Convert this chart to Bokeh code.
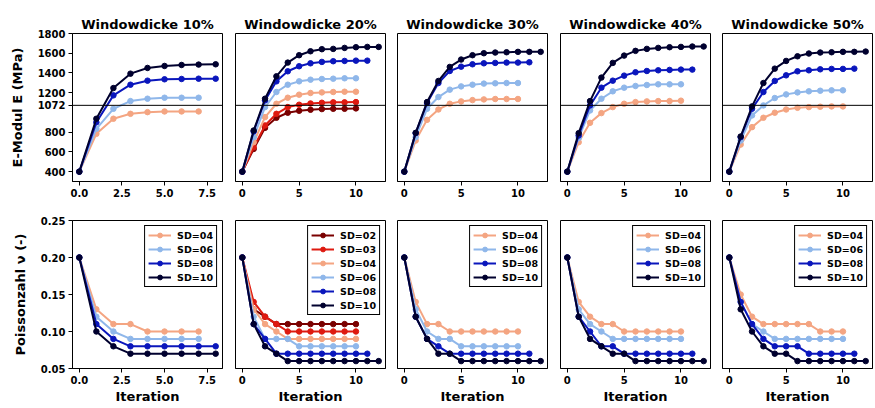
from bokeh.plotting import figure
from bokeh.layouts import column, row
from bokeh.models import Span, FixedTicker, NumeralTickFormatter, Range1d
from bokeh.embed import file_html
from bokeh.resources import INLINE

FONT = "DejaVu Sans"

windows = ["10%", "20%", "30%", "40%", "50%"]
sd_labels = ["SD=02", "SD=03", "SD=04", "SD=06", "SD=08", "SD=10"]
sd_colors = {"SD=02": "#7a0000", "SD=03": "#de1a10", "SD=04": "#f4a582",
             "SD=06": "#8fb7ea", "SD=08": "#0a16bc", "SD=10": "#00002e"}

E_ticks = [400, 600, 800, 1072, 1200, 1400, 1600, 1800]
E_ref = 1072
nu_ticks = [0.05, 0.10, 0.15, 0.20, 0.25]

# E-Modul (MPa) per iteration
E_10_SD04 = [400, 783, 936, 986, 1003, 1010, 1010, 1010]
E_10_SD06 = [400, 834, 1037, 1115, 1139, 1149, 1149, 1149]
E_10_SD08 = [400, 900, 1173, 1281, 1322, 1336, 1339, 1342, 1342]
E_10_SD10 = [400, 936, 1247, 1393, 1451, 1471, 1481, 1485, 1488]

E_20_SD02 = [400, 630, 844, 946, 997, 1017, 1027, 1034, 1037, 1037, 1041]
E_20_SD03 = [400, 647, 868, 986, 1054, 1078, 1091, 1098, 1102, 1102, 1105]
E_20_SD04 = [400, 698, 953, 1088, 1149, 1180, 1197, 1203, 1207, 1210, 1210]
E_20_SD06 = [400, 749, 1054, 1207, 1281, 1315, 1332, 1339, 1342, 1346, 1346]
E_20_SD08 = [400, 807, 1122, 1315, 1417, 1468, 1498, 1512, 1519, 1522, 1525, 1525]
E_20_SD10 = [400, 817, 1139, 1366, 1505, 1580, 1620, 1641, 1644, 1654, 1661, 1664, 1664]

E_30_SD04 = [400, 715, 925, 1030, 1088, 1112, 1125, 1132, 1136, 1136, 1136]
E_30_SD06 = [400, 749, 1037, 1156, 1231, 1264, 1281, 1292, 1295, 1298, 1298]
E_30_SD08 = [400, 790, 1095, 1298, 1420, 1464, 1488, 1498, 1502, 1505, 1505, 1508]
E_30_SD10 = [400, 793, 1105, 1319, 1461, 1536, 1580, 1600, 1607, 1610, 1614, 1614, 1614]

E_40_SD04 = [400, 698, 895, 993, 1054, 1088, 1105, 1112, 1115, 1115, 1119]
E_40_SD06 = [400, 742, 1020, 1139, 1214, 1251, 1268, 1278, 1285, 1285, 1285]
E_40_SD08 = [400, 766, 1071, 1251, 1322, 1373, 1407, 1420, 1427, 1431, 1434, 1434]
E_40_SD10 = [400, 790, 1115, 1353, 1502, 1576, 1624, 1644, 1654, 1661, 1664, 1668, 1668]

E_50_SD04 = [400, 674, 851, 946, 997, 1030, 1047, 1054, 1058, 1061, 1061]
E_50_SD06 = [400, 715, 970, 1071, 1146, 1183, 1203, 1214, 1220, 1224, 1224]
E_50_SD08 = [400, 749, 1037, 1207, 1319, 1376, 1417, 1427, 1437, 1441, 1441, 1444]
E_50_SD10 = [400, 756, 1061, 1298, 1444, 1522, 1569, 1597, 1607, 1610, 1614, 1614, 1617]

# Poissonzahl per iteration
nu_10_SD04 = [0.20, 0.13, 0.11, 0.11, 0.10, 0.10, 0.10, 0.10]
nu_10_SD06 = [0.20, 0.12, 0.10, 0.09, 0.09, 0.09, 0.09, 0.09]
nu_10_SD08 = [0.20, 0.11, 0.09, 0.08, 0.08, 0.08, 0.08, 0.08, 0.08]
nu_10_SD10 = [0.20, 0.10, 0.08, 0.07, 0.07, 0.07, 0.07, 0.07, 0.07]

nu_20_SD02 = [0.20, 0.13, 0.12, 0.11, 0.11, 0.11, 0.11, 0.11, 0.11, 0.11, 0.11]
nu_20_SD03 = [0.20, 0.14, 0.12, 0.11, 0.10, 0.10, 0.10, 0.10, 0.10, 0.10, 0.10]
nu_20_SD04 = [0.20, 0.13, 0.11, 0.10, 0.09, 0.09, 0.09, 0.09, 0.09, 0.09, 0.09]
nu_20_SD06 = [0.20, 0.12, 0.09, 0.09, 0.09, 0.08, 0.08, 0.08, 0.08, 0.08, 0.08]
nu_20_SD08 = [0.20, 0.11, 0.09, 0.07, 0.07, 0.07, 0.07, 0.07, 0.07, 0.07, 0.07, 0.07]
nu_20_SD10 = [0.20, 0.11, 0.08, 0.07, 0.06, 0.06, 0.06, 0.06, 0.06, 0.06, 0.06, 0.06, 0.06]

nu_30_SD04 = [0.20, 0.14, 0.11, 0.11, 0.10, 0.10, 0.10, 0.10, 0.10, 0.10, 0.10]
nu_30_SD06 = [0.20, 0.13, 0.10, 0.09, 0.09, 0.08, 0.08, 0.08, 0.08, 0.08, 0.08]
nu_30_SD08 = [0.20, 0.12, 0.09, 0.08, 0.07, 0.07, 0.07, 0.07, 0.07, 0.07, 0.07, 0.07]
nu_30_SD10 = [0.20, 0.12, 0.09, 0.07, 0.07, 0.06, 0.06, 0.06, 0.06, 0.06, 0.06, 0.06, 0.06]

nu_40_SD04 = [0.20, 0.14, 0.12, 0.11, 0.11, 0.10, 0.10, 0.10, 0.10, 0.10, 0.10]
nu_40_SD06 = [0.20, 0.13, 0.11, 0.10, 0.09, 0.09, 0.09, 0.09, 0.09, 0.09, 0.09]
nu_40_SD08 = [0.20, 0.12, 0.10, 0.08, 0.08, 0.07, 0.07, 0.07, 0.07, 0.07, 0.07, 0.07]
nu_40_SD10 = [0.20, 0.12, 0.09, 0.08, 0.07, 0.07, 0.06, 0.06, 0.06, 0.06, 0.06, 0.06, 0.06]

nu_50_SD04 = [0.20, 0.15, 0.12, 0.11, 0.11, 0.11, 0.11, 0.11, 0.10, 0.10, 0.10]
nu_50_SD06 = [0.20, 0.14, 0.11, 0.10, 0.09, 0.09, 0.09, 0.09, 0.09, 0.09, 0.09]
nu_50_SD08 = [0.20, 0.14, 0.11, 0.09, 0.08, 0.08, 0.08, 0.07, 0.07, 0.07, 0.07, 0.07]
nu_50_SD10 = [0.20, 0.13, 0.10, 0.08, 0.07, 0.07, 0.06, 0.06, 0.06, 0.06, 0.06, 0.06, 0.06]

E_series = [
    {"SD=04": E_10_SD04, "SD=06": E_10_SD06, "SD=08": E_10_SD08, "SD=10": E_10_SD10},
    {"SD=02": E_20_SD02, "SD=03": E_20_SD03, "SD=04": E_20_SD04, "SD=06": E_20_SD06,
     "SD=08": E_20_SD08, "SD=10": E_20_SD10},
    {"SD=04": E_30_SD04, "SD=06": E_30_SD06, "SD=08": E_30_SD08, "SD=10": E_30_SD10},
    {"SD=04": E_40_SD04, "SD=06": E_40_SD06, "SD=08": E_40_SD08, "SD=10": E_40_SD10},
    {"SD=04": E_50_SD04, "SD=06": E_50_SD06, "SD=08": E_50_SD08, "SD=10": E_50_SD10},
]
nu_series = [
    {"SD=04": nu_10_SD04, "SD=06": nu_10_SD06, "SD=08": nu_10_SD08, "SD=10": nu_10_SD10},
    {"SD=02": nu_20_SD02, "SD=03": nu_20_SD03, "SD=04": nu_20_SD04, "SD=06": nu_20_SD06,
     "SD=08": nu_20_SD08, "SD=10": nu_20_SD10},
    {"SD=04": nu_30_SD04, "SD=06": nu_30_SD06, "SD=08": nu_30_SD08, "SD=10": nu_30_SD10},
    {"SD=04": nu_40_SD04, "SD=06": nu_40_SD06, "SD=08": nu_40_SD08, "SD=10": nu_40_SD10},
    {"SD=04": nu_50_SD04, "SD=06": nu_50_SD06, "SD=08": nu_50_SD08, "SD=10": nu_50_SD10},
]

# layout (pixels)
widths = [229, 162, 163, 162, 159]
lefts = [72, 6, 6, 6, 6]
rights = [7, 6, 7, 6, 3]


def style_axes(p, show_y):
    for ax in [p.xaxis[0]] + ([p.yaxis[0]] if show_y else []):
        ax.axis_line_color = "black"
        ax.major_tick_line_color = "black"
        ax.major_tick_out = 4
        ax.major_tick_in = 0
        ax.minor_tick_line_color = None
        ax.major_label_text_font = FONT
        ax.major_label_text_font_style = "bold"
        ax.major_label_text_font_size = "10px"
        ax.major_label_text_color = "black"
        ax.major_label_standoff = 3
        ax.axis_label_text_font = FONT
        ax.axis_label_text_font_style = "bold"
        ax.axis_label_text_font_size = "13px"
        ax.axis_label_text_color = "black"
    if not show_y:
        p.yaxis.visible = False
    p.xgrid.visible = False
    p.ygrid.visible = False
    p.outline_line_color = "black"
    p.outline_line_alpha = 1
    p.outline_line_width = 1


top_figs = []
bot_figs = []
for i, w in enumerate(windows):
    nmax = max(len(v) for v in E_series[i].values()) - 1
    pad = 0.05 * nmax
    # top row: E-Modul
    p = figure(width=widths[i], height=200, output_backend="svg", toolbar_location=None,
               min_border_left=lefts[i], min_border_right=rights[i],
               min_border_top=33, min_border_bottom=19,
               x_range=Range1d(-pad, nmax + pad), y_range=Range1d(300, 1800),
               title="Windowdicke " + w)
    p.title.text_font = FONT
    p.title.text_font_size = "13px"
    p.title.text_font_style = "bold"
    p.title.text_color = "black"
    p.title.align = "center"
    p.title.standoff = 4
    style_axes(p, i == 0)
    p.yaxis.ticker = FixedTicker(ticks=E_ticks)
    if i == 0:
        p.yaxis.axis_label = "E-Modul E (MPa)"
        p.yaxis.axis_label_standoff = 10
        p.xaxis.ticker = FixedTicker(ticks=[0, 2.5, 5, 7.5])
        p.xaxis.formatter = NumeralTickFormatter(format="0.0")
    else:
        p.xaxis.ticker = FixedTicker(ticks=[0, 5, 10])
        p.xaxis.formatter = NumeralTickFormatter(format="0")
    p.add_layout(Span(location=E_ref, dimension="width", line_color="black", line_width=1))
    for lab in sd_labels:
        if lab in E_series[i]:
            ys = E_series[i][lab]
            xs = list(range(len(ys)))
            p.line(xs, ys, line_color=sd_colors[lab], line_width=2)
            p.scatter(xs, ys, size=5.5, fill_color=sd_colors[lab], line_color=sd_colors[lab])
    top_figs.append(p)

    # bottom row: Poissonzahl
    q = figure(width=widths[i], height=208, output_backend="svg", toolbar_location=None,
               min_border_left=lefts[i], min_border_right=rights[i],
               min_border_top=20, min_border_bottom=40,
               x_range=Range1d(-pad, nmax + pad), y_range=Range1d(0.05, 0.25))
    style_axes(q, i == 0)
    q.xaxis.axis_label = "Iteration"
    q.xaxis.axis_label_standoff = 2
    q.yaxis.ticker = FixedTicker(ticks=nu_ticks)
    q.yaxis.formatter = NumeralTickFormatter(format="0.00")
    if i == 0:
        q.yaxis.axis_label = "Poissonzahl ν (-)"
        q.yaxis.axis_label_standoff = 10
        q.xaxis.ticker = FixedTicker(ticks=[0, 2.5, 5, 7.5])
        q.xaxis.formatter = NumeralTickFormatter(format="0.0")
    else:
        q.xaxis.ticker = FixedTicker(ticks=[0, 5, 10])
        q.xaxis.formatter = NumeralTickFormatter(format="0")
    for lab in sd_labels:
        if lab in nu_series[i]:
            ys = nu_series[i][lab]
            xs = list(range(len(ys)))
            q.line(xs, ys, line_color=sd_colors[lab], line_width=2, legend_label=lab)
            q.scatter(xs, ys, size=5.5, fill_color=sd_colors[lab], line_color=sd_colors[lab],
                      legend_label=lab)
    lg = q.legend[0]
    lg.location = "top_right"
    lg.border_line_color = "black"
    lg.border_line_width = 1
    lg.border_line_alpha = 1
    lg.background_fill_alpha = 1
    lg.label_text_font = FONT
    lg.label_text_font_style = "bold"
    lg.label_text_font_size = "9.5px"
    lg.label_text_color = "black"
    lg.glyph_width = 23
    lg.glyph_height = 12
    lg.label_height = 12
    lg.spacing = 2
    lg.padding = 3
    lg.margin = 5
    lg.label_standoff = 6
    bot_figs.append(q)

layout = column(row(*top_figs), row(*bot_figs))
open("out.html", "w").write(file_html(layout, INLINE))
